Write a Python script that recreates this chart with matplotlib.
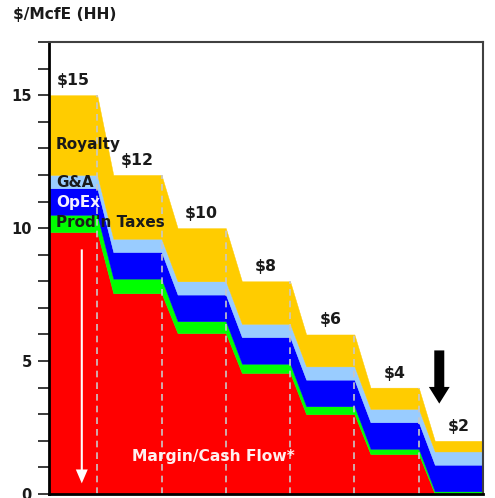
import matplotlib.pyplot as plt
import numpy as np
from matplotlib.ticker import MultipleLocator

# price levels ($/McfE, Henry Hub) and what each dollar is split into
price_labels = ['\\$15', '\\$12', '\\$10', '\\$8', '\\$6', '\\$4', '\\$2']
margin = [9.85, 7.55, 6.05, 4.55, 3.00, 1.50, 0.00]
taxes = [0.65, 0.55, 0.45, 0.35, 0.30, 0.20, 0.10]
opex = [1.0, 1.0, 1.0, 1.0, 1.0, 1.0, 1.0]
g_and_a = [0.5, 0.5, 0.5, 0.5, 0.5, 0.5, 0.5]
royalty = [3.0, 2.4, 2.0, 1.6, 1.2, 0.8, 0.4]

layer_names = ['Margin', 'Taxes', 'OpEx', 'G&A', 'Royalty']
layer_colors = ['#FF0000', '#00FF00', '#0000FF', '#99CCFF', '#FFCC00']

n = len(price_labels)
flat = 0.75  # width of each price plateau, the rest is the slope down

x = np.ravel([[i, i + flat] for i in range(n)])
stack = np.array([margin, taxes, opex, g_and_a, royalty])
tops = np.cumsum(stack, axis=0)
totals = tops[-1]

fig = plt.figure(figsize=(4.95, 4.98), dpi=100)
ax = fig.add_axes([49 / 495, 4 / 498, 434 / 495, 452 / 498])

lower = np.zeros(len(x))
for k in range(len(layer_names)):
    upper = np.repeat(tops[k], 2)
    ax.fill_between(x, lower, upper, color=layer_colors[k], lw=0.3,
                    edgecolor=layer_colors[k])
    lower = upper

# dashed dividers at end of each plateau
for i in range(n - 1):
    ax.vlines(i + flat, 0, totals[i], colors='#C8C8C8', lw=1.2,
              linestyles=(0, (4, 3)))

# price labels above plateaus
for i in range(n):
    ax.text(i + flat / 2, totals[i] + 0.55, price_labels[i], ha='center',
            va='center', fontsize=11.3, fontweight='bold', color='#1a1a1a')

# layer names on the first column
lab_kw = dict(fontsize=11, fontweight='bold', ha='left', va='center')
ax.text(0.11, 13.15, 'Royalty', color='#1a1a1a', **lab_kw)
ax.text(0.11, 11.72, 'G&A', color='#1a1a1a', **lab_kw)
ax.text(0.11, 10.95, 'OpEx', color='#F4F0FF', **lab_kw)
ax.text(0.11, 10.2, "Prod'n Taxes", color='#1a1a1a', **lab_kw)

ax.text(2.55, 1.4, 'Margin/Cash Flow*', color='#FFF0F0', fontsize=11.2,
        fontweight='bold', ha='center', va='center')

# arrows
ax.annotate('', xy=(0.51, 0.4), xytext=(0.51, 9.2),
            arrowprops=dict(width=1.5, headwidth=8.6, headlength=10,
                            shrink=0, color='white', lw=0))
ax.annotate('', xy=(6.07, 3.4), xytext=(6.07, 5.4),
            arrowprops=dict(width=7.2, headwidth=15, headlength=12,
                            shrink=0, color='black', lw=0))

ax.set_xlim(0, n - 1 + flat)
ax.set_ylim(0, 17)
ax.set_xticks([])
ax.yaxis.set_major_locator(MultipleLocator(5))
ax.yaxis.set_minor_locator(MultipleLocator(1))
ax.tick_params(axis='y', which='both', length=8, width=1.2, direction='out',
               pad=4.5, color='#1a1a1a')
for lbl in ax.get_yticklabels():
    lbl.set_fontweight('bold')
    lbl.set_fontsize(10.5)
    lbl.set_color('#1a1a1a')

for s in ['left', 'bottom']:
    ax.spines[s].set_color('black')
    ax.spines[s].set_linewidth(2)
for s in ['top', 'right']:
    ax.spines[s].set_color('#404040')
    ax.spines[s].set_linewidth(1.5)

fig.text(13 / 495, 1 - 15 / 498, '\\$/McfE (HH)', fontsize=11.2,
         fontweight='bold', ha='left', va='center', color='#1a1a1a')

fig.savefig('out.png', dpi=100)
